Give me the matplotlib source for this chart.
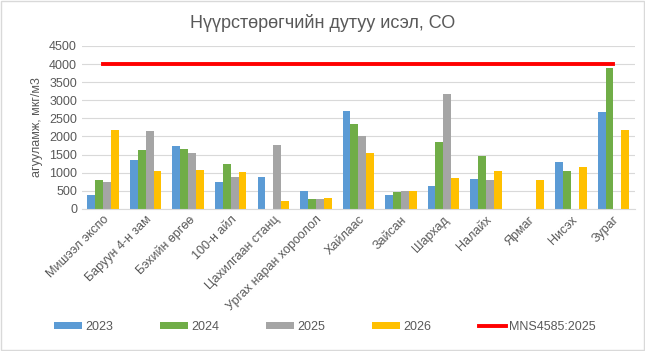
import matplotlib
matplotlib.use("Agg")
import matplotlib.pyplot as plt
import numpy as np

categories = ["Мишээл экспо", "Баруун 4-н зам", "Бэхийн өргөө", "100-н айл",
              "Цахилгаан станц", "Ургах наран хороолол", "Хайлаас", "Зайсан",
              "Шархад", "Налайх", "Ярмаг", "Нисэх", "Зураг"]
v2023 = [376, 1359, 1744, 753, 890, 505, 2708, 395, 643, 835, np.nan, 1304, 2681]
v2024 = [808, 1634, 1662, 1248, np.nan, 285, 2350, 477, 1854, 1469, np.nan, 1056, 3892]
v2025 = [753, 2139, 1551, 890, 1772, 285, 2020, 505, 3176, 808, np.nan, np.nan, np.nan]
v2026 = [2185, 1056, 1083, 1028, 230, 312, 1551, 505, 863, 1056, 808, 1166, 2185]
standard = [4000] * len(categories)
series_names = ["2023", "2024", "2025", "2026"]
standard_name = "MNS4585:2025"
yticks = list(range(0, 5000, 500))

plt.rcParams['font.family'] = ['Liberation Sans', 'DejaVu Sans']
fig = plt.figure(figsize=(6.45, 3.51), dpi=100)
ax = fig.add_axes([0.127, 0.405, 0.857, 0.464])

colors = ["#5B9BD5", "#70AD47", "#A5A5A5", "#FFC000"]
x = np.arange(len(categories))
w = 0.185
handles = []
for i, (vals, name) in enumerate(zip([v2023, v2024, v2025, v2026], series_names)):
    b = ax.bar(x + (i - 1.5) * w, vals, width=w, color=colors[i], label=name, zorder=2)
    handles.append(b)
line, = ax.plot(x, standard, color="#FF0000", linewidth=2.8, label=standard_name, zorder=3)
handles.append(line)

ax.set_xlim(-0.5, len(categories) - 0.5)
ax.set_ylim(0, 4500)
ax.set_yticks(yticks)
ax.grid(axis='y', color='#D9D9D9', linewidth=0.8, zorder=0)
for s in ['top', 'right', 'left']:
    ax.spines[s].set_visible(False)
ax.spines['bottom'].set_color('#D9D9D9')
ax.tick_params(axis='both', length=0, labelsize=9, colors='#595959')
ax.set_xticks(x)
ax.set_xticklabels(categories, rotation=45, ha='right', rotation_mode='anchor', fontsize=9, color='#595959')
ax.set_ylabel("агууламж, мкг/м3", fontsize=9, color='#595959', labelpad=4)

fig.text(0.5, 0.935, "Нүүрстөрөгчийн дутуу исэл, СО", ha='center', va='center', fontsize=13, color='#595959')

leg = fig.legend(handles, series_names + [standard_name], loc='center',
                 bbox_to_anchor=(0.504, 0.068), ncol=5, frameon=False,
                 fontsize=9, handlelength=2.2, handleheight=0.55, columnspacing=3.8,
                 handletextpad=0.25, labelcolor='#595959')

border = plt.Rectangle((0.002, 0.003), 0.996, 0.994, transform=fig.transFigure,
                       fill=False, edgecolor='#D9D9D9', linewidth=1)
fig.patches.append(border)

fig.savefig("out.png", dpi=100, facecolor='white')
